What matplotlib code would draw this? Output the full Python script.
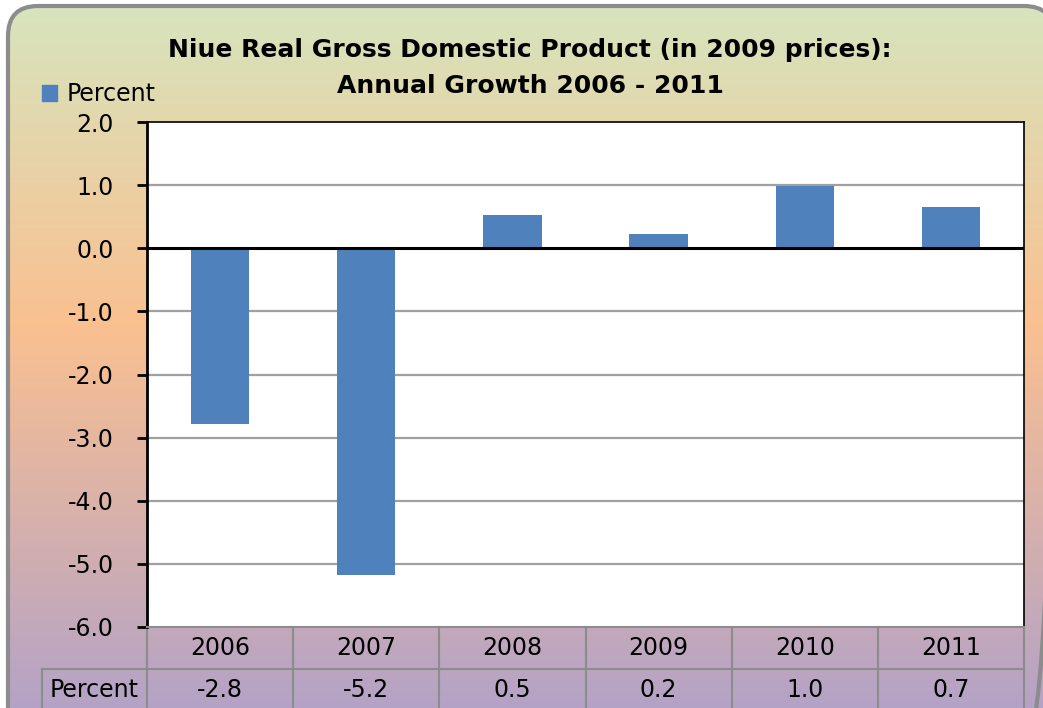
import numpy as np
import matplotlib
matplotlib.use('agg')
import matplotlib.pyplot as plt
from matplotlib.patches import FancyBboxPatch
from matplotlib.colors import LinearSegmentedColormap
import matplotlib.transforms as mtransforms

# data
years = ['2006', '2007', '2008', '2009', '2010', '2011']
growth = [-2.79, -5.18, 0.52, 0.22, 0.98, 0.65]
table_labels = ['-2.8', '-5.2', '0.5', '0.2', '1.0', '0.7']
series_name = 'Percent'
title = 'Niue Real Gross Domestic Product (in 2009 prices):\nAnnual Growth 2006 - 2011'
yticks = [2.0, 1.0, 0.0, -1.0, -2.0, -3.0, -4.0, -5.0, -6.0]

W, H = 1043, 708
bar_color = '#4f81bd'
fs = 17

fig = plt.figure(figsize=(W / 100, H / 100), dpi=100)
fig.patch.set_facecolor('white')

# background panel with gradient, in pixel coords
bg = fig.add_axes([0, 0, 1, 1], zorder=0)
bg.set_xlim(0, W)
bg.set_ylim(H, 0)
bg.axis('off')
box = FancyBboxPatch((8, 6), 1046, 740, boxstyle='round,pad=0,rounding_size=30',
                     facecolor='none', edgecolor='#8c8c8c', linewidth=3, zorder=3)
bg.add_patch(box)
cmap = LinearSegmentedColormap.from_list(
    'bgfade', [(0.0, '#d7e4bd'), (0.45, '#fac090'), (1.0, '#b3a2c7')])
grad = np.linspace(0, 1, 256).reshape(-1, 1)
im = bg.imshow(grad, cmap=cmap, extent=[8, 1054, 714, 6], aspect='auto', zorder=1)
im.set_clip_path(box)

# main plot
ax = fig.add_axes([147 / W, 1 - 627 / H, (1024 - 147) / W, (627 - 122) / H], zorder=2)
ax.set_facecolor('white')
x = np.arange(len(years))
ax.bar(x, growth, width=0.40, color=bar_color, zorder=3)
ax.set_xlim(-0.5, len(years) - 0.5)
ax.set_ylim(-6, 2)
ax.set_yticks(yticks)
ax.set_yticklabels(['%.1f' % t for t in yticks])
ax.set_xticks([])
for t in yticks[1:-1]:
    if t != 0:
        ax.axhline(t, color='#a0a0a0', linewidth=1.6, zorder=1)
ax.axhline(0, color='black', linewidth=2.2, zorder=4)
ax.tick_params(axis='y', direction='out', length=7, width=2, pad=17, labelsize=fs)
ax.spines['left'].set_linewidth(2)
ax.spines['right'].set_linewidth(1.2)
ax.spines['top'].set_linewidth(1.2)
ax.spines['bottom'].set_color('#8c8c8c')
ax.spines['bottom'].set_linewidth(1.5)

# data table under the plot
trans = mtransforms.blended_transform_factory(ax.transData, ax.transAxes)
row_h = 42 / 505
label_left = -0.5 - (147 - 42) / (877 / 6)
grid_kw = dict(color='#8c8c8c', linewidth=1.5, transform=trans, clip_on=False)
ax.plot([-0.5, 5.5], [-row_h, -row_h], **grid_kw)
ax.plot([label_left, -0.5], [-row_h, -row_h], **grid_kw)
ax.plot([label_left, label_left], [-row_h, -0.3], **grid_kw)
for k in range(len(years) + 1):
    ax.plot([k - 0.5, k - 0.5], [0, -0.3], **grid_kw)
for i, (yr, lab) in enumerate(zip(years, table_labels)):
    ax.text(i, -row_h / 2, yr, ha='center', va='center', fontsize=fs, transform=trans)
    ax.text(i, -row_h * 1.5, lab, ha='center', va='center', fontsize=fs, transform=trans)
ax.text((label_left - 0.5) / 2, -row_h * 1.5, series_name, ha='center', va='center',
        fontsize=fs, transform=trans)

# title and legend
fig.text(530 / W, 1 - 68 / H, title, ha='center', va='center', fontsize=18,
         fontweight='bold', linespacing=1.65)
h = plt.Rectangle((0, 0), 1, 1, color=bar_color)
fig.legend([h], [series_name], loc='center left', bbox_to_anchor=(42 / W, 1 - 94 / H),
           frameon=False, fontsize=fs, handlelength=0.65, handleheight=0.65,
           handletextpad=0.4, borderpad=0, borderaxespad=0)

fig.savefig('out.png', dpi=100)
